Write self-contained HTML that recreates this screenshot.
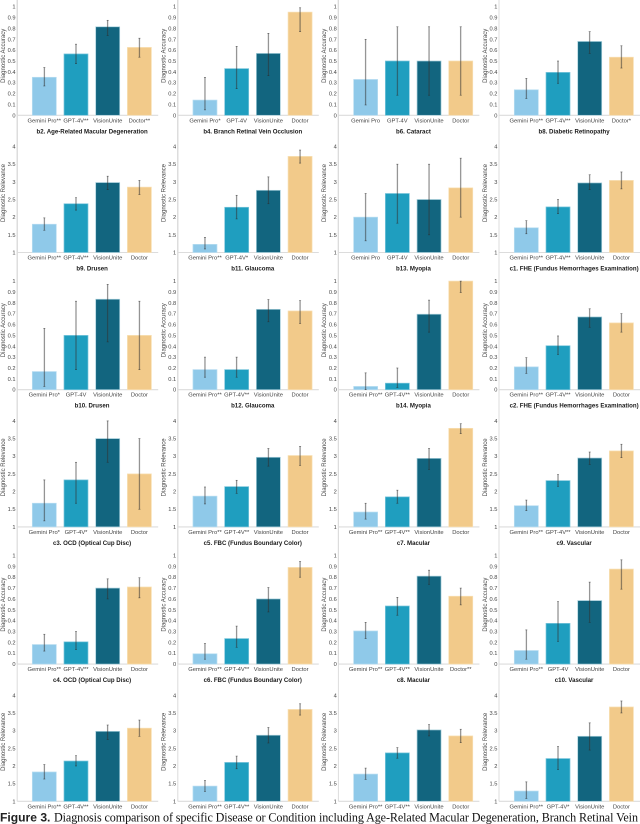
<!DOCTYPE html>
<html lang="en">
<head>
<meta charset="utf-8">
<title>Figure 3: Diagnosis comparison</title>
<style>
html,body{margin:0;padding:0;background:#fff;width:640px;height:824px;overflow:hidden}
#chart{display:block;position:absolute;left:0;top:0;filter:blur(0.3px)}
text{font-family:"Liberation Sans",sans-serif}
</style>
</head>
<body>
<svg id="chart" xmlns="http://www.w3.org/2000/svg" width="640" height="824" viewBox="0 0 640 824">
<text x="0" y="821.7" font-size="12.1" fill="#111"><tspan font-weight="bold" style="font-family:'Liberation Sans',sans-serif" fill="#222">Figure 3.</tspan><tspan x="54" textLength="584" lengthAdjust="spacing" style="font-family:'Liberation Serif',serif">Diagnosis comparison of specific Disease or Condition including Age-Related Macular Degeneration, Branch Retinal Vein</tspan></text>
</svg>
<script>
var panelTitles = [
"b2. Age-Related Macular Degeneration","b4. Branch Retinal Vein Occlusion","b6. Cataract","b8. Diabetic Retinopathy",
"b9. Drusen","b11. Glaucoma","b13. Myopia","c1. FHE (Fundus Hemorrhages Examination)",
"b10. Drusen","b12. Glaucoma","b14. Myopia","c2. FHE (Fundus Hemorrhages Examination)",
"c3. OCD (Optical Cup Disc)","c5. FBC (Fundus Boundary Color)","c7. Macular","c9. Vascular",
"c4. OCD (Optical Cup Disc)","c6. FBC (Fundus Boundary Color)","c8. Macular","c10. Vascular",
"","","",""
];
var metricNames = ["Diagnostic Accuracy","Diagnostic Relevance"];
var rowMetric = [0,1,0,1,0,1];
var accuracyTicks = ["0","0.1","0.2","0.3","0.4","0.5","0.6","0.7","0.8","0.9","1"];
var relevanceTicks = ["1","1.5","2","2.5","3","3.5","4"];
var modelNames = ["Gemini Pro","GPT-4V","VisionUnite","Doctor"];
var significance = [
["**","**","","**"],["*","","",""],["","","",""],["**","**","","*"],
["**","**","",""],["**","*","",""],["","","",""],["**","**","",""],
["*","","",""],["**","**","",""],["**","**","",""],["**","**","",""],
["*","*","",""],["**","**","",""],["**","**","",""],["**","**","",""],
["**","**","",""],["**","**","",""],["**","**","","**"],["**","","",""],
["**","**","",""],["**","**","",""],["**","**","",""],["**","*","",""]
];
var barValues = [
[.35,.565,.815,.625],[.14,.43,.57,.95],[.33,.5,.5,.5],[.235,.395,.68,.535],
[1.8,2.38,2.98,2.85],[1.23,2.28,2.76,3.72],[2.0,2.67,2.5,2.83],[1.7,2.29,2.97,3.04],
[.167,.5,.833,.5],[.185,.185,.74,.725],[.03,.06,.695,1.0],[.21,.405,.67,.615],
[1.67,2.33,3.5,2.5],[1.87,2.14,2.97,3.02],[1.42,1.85,2.94,3.79],[1.6,2.31,2.95,3.15],
[.18,.205,.70,.71],[.095,.235,.60,.89],[.305,.535,.81,.625],[.125,.375,.585,.875],
[1.83,2.14,2.98,3.07],[1.43,2.1,2.87,3.6],[1.77,2.37,3.02,2.85],[1.29,2.21,2.84,3.67]
];
var errorLow = [
[.27,.475,.735,.535],[.05,.245,.365,.77],[.095,.185,.185,.185],[.155,.295,.57,.435],
[1.63,2.2,2.78,2.64],[1.1,1.95,2.38,3.53],[1.33,1.83,1.5,2.0],[1.53,2.1,2.78,2.8],
[.03,.185,.44,.185],[.115,.115,.625,.61],[0,.02,.53,.895],[.15,.325,.575,.53],
[1.17,1.67,2.83,1.5],[1.65,1.95,2.72,2.74],[1.22,1.67,2.63,3.64],[1.46,2.15,2.77,2.96],
[.12,.135,.60,.61],[.045,.155,.48,.80],[.235,.45,.735,.545],[.045,.21,.385,.69],
[1.63,2.0,2.75,2.84],[1.28,1.92,2.65,3.44],[1.62,2.22,2.85,2.66],[1.08,1.9,2.45,3.5]
];
var errorHigh = [
[.44,.655,.875,.71],[.35,.635,.755,.99],[.70,.815,.815,.815],[.34,.50,.77,.64],
[1.98,2.55,3.16,3.04],[1.43,2.62,3.14,3.9],[2.67,3.5,3.5,3.67],[1.9,2.5,3.2,3.28],
[.565,.815,.97,.815],[.30,.30,.83,.82],[.155,.2,.825,1.0],[.295,.495,.745,.70],
[2.33,2.83,4.0,3.5],[2.13,2.32,3.22,3.28],[1.67,2.04,3.22,3.92],[1.76,2.48,3.12,3.34],
[.275,.30,.785,.795],[.19,.35,.705,.945],[.385,.615,.865,.70],[.315,.575,.755,.96],
[2.04,2.29,3.16,3.3],[1.59,2.28,3.09,3.76],[1.94,2.52,3.17,3.04],[1.55,2.55,3.22,3.84]
];
var barFills = ["#8fc9e9","#1f9ebf","#12657f","#f2ca8a"];
var barEdges = ["#b8ddf1","#7cc6dc","#a8d0dc","#f8e0b4"];

var svg = document.getElementById("chart");
var NS = "http://www.w3.org/2000/svg";
function make(parent, tag, props, label) {
  var el = document.createElementNS(NS, tag);
  for (var k in props) el.setAttribute(k, props[k]);
  if (label !== undefined) el.textContent = label;
  parent.appendChild(el);
  return el;
}
function axisLeft(c) { return 17.2 + 160.6 * c; }
function barLeft(c, i) { return 32.3 + 160.67 * c + 31.7 * i; }
function baseline(r) { return 115.3 + 137.2 * r; }
function yAccuracy(r, v) { return baseline(r) - 108.6 * v; }
function yRelevance(r, v) { return baseline(r) - 35.33 * (v - 1); }
function scaleY(r, v) { return rowMetric[r] === 0 ? yAccuracy(r, v) : yRelevance(r, v); }

var BAR_W = 24;
for (var p = 0; p < barValues.length; p++) {
  var c = p % 4, r = Math.floor(p / 4);
  var ax = axisLeft(c), base = baseline(r);
  var top = r === 0 ? 0 : base - 117.5;
  var g = make(svg, "g", {});
  
  

  var yl = make(g, "line", {x1: ax, x2: ax, y1: top, y2: base, stroke: "#dcdcdc", "stroke-width": 1});
  
  
  var xl = make(g, "line", {x1: ax, x2: ax + 141, y1: base, y2: base, stroke: "#dcdcdc", "stroke-width": 1.1});
  
  

  var ticks = rowMetric[r] === 0 ? accuracyTicks : relevanceTicks;
  for (var t = 0; t < ticks.length; t++) {
    var tk = make(g, "text", {x: ax - 1.6, y: scaleY(r, parseFloat(ticks[t])) + 2, "font-size": 5.7, fill: "#444", "text-anchor": "end"}, ticks[t]);
    
    
  }
  var midY = base - 59.5;
  var yt = make(g, "text", {x: 0, y: 0, "font-size": 6, fill: "#444", "text-anchor": "middle", transform: "translate(" + (ax - 12.2) + "," + midY + ") rotate(-90)"}, metricNames[rowMetric[r]]);
  
  

  var floorValue = rowMetric[r] === 0 ? 0 : 1;
  for (var i = 0; i < 4; i++) {
    var x = barLeft(c, i), cx = x + BAR_W / 2;
    var yTop = scaleY(r, barValues[p][i]), y0 = scaleY(r, floorValue);
    var bar = make(g, "rect", {x: x, y: yTop, width: BAR_W, height: Math.max(0, y0 - yTop), fill: barFills[i], stroke: barEdges[i], "stroke-width": 0.7});
    
    

    var yLo = scaleY(r, errorLow[p][i]), yHi = scaleY(r, errorHigh[p][i]);
    var band = make(g, "line", {x1: cx, x2: cx, y1: yHi, y2: yLo, stroke: "rgba(70,70,70,.28)", "stroke-width": 1.6});
    
    
    var whisk = make(g, "line", {x1: cx, x2: cx, y1: yHi, y2: yLo, stroke: "rgba(40,40,40,.55)", "stroke-width": 0.6});
    
    
    var capHi = make(g, "line", {x1: cx - 1, x2: cx + 1, y1: yHi, y2: yHi, stroke: "rgba(40,40,40,.7)", "stroke-width": 0.6});
    
    
    var capLo = make(g, "line", {x1: cx - 1, x2: cx + 1, y1: yLo, y2: yLo, stroke: "rgba(40,40,40,.7)", "stroke-width": 0.6});
    
    

    var lab = make(g, "text", {x: cx, y: base + 7, "font-size": 5.8, fill: "#444", "text-anchor": "middle"}, modelNames[i] + significance[p][i]);
    
    
  }
  if (panelTitles[p]) {
    var ti = make(g, "text", {x: barLeft(c, 0) + 59.8, y: base + 18, "font-size": 6.1, "font-weight": "bold", fill: "#1a1a1a", "text-anchor": "middle"}, panelTitles[p]);
    
    
  }
}
</script>
</body>
</html>
